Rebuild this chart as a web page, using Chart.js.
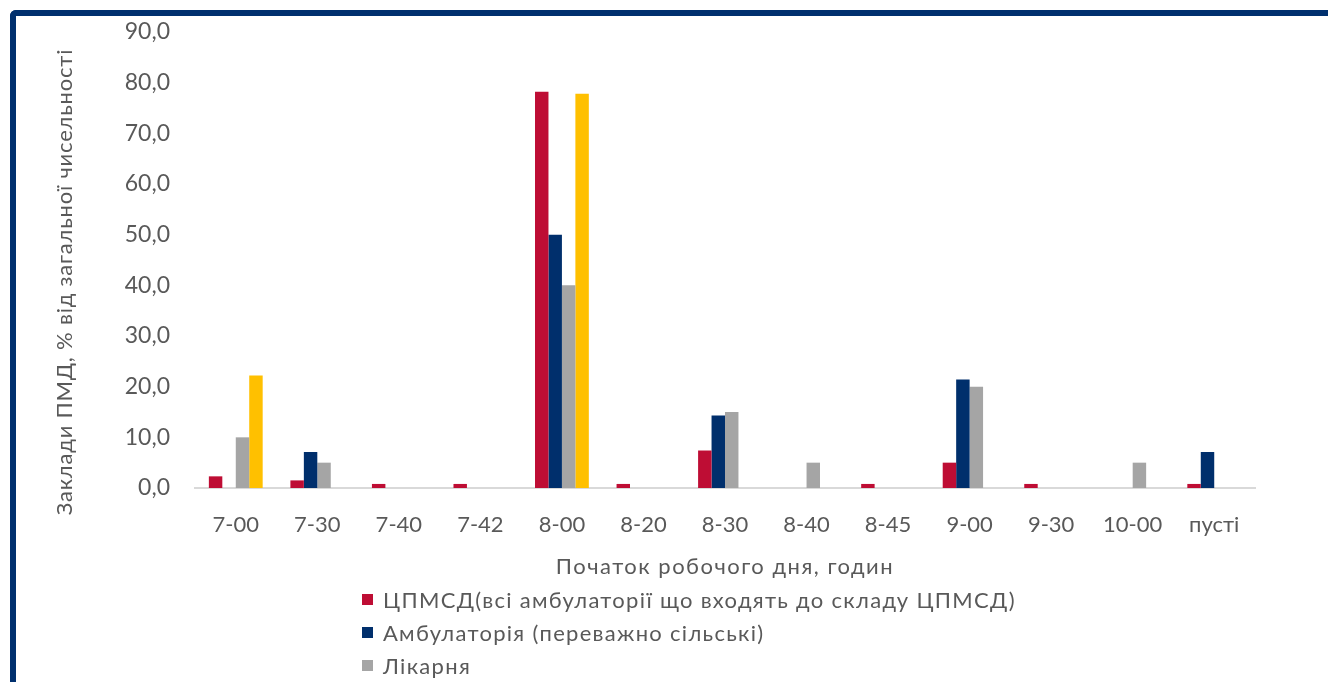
<!DOCTYPE html>
<html>
<head>
<meta charset="utf-8">
<script src="https://cdn.jsdelivr.net/npm/chart.js@4/dist/chart.umd.min.js"></script>
<style>
  html, body { margin: 0; padding: 0; width: 1328px; height: 682px; overflow: hidden; background: #fff; }
  #frame {
    position: absolute; left: 10px; top: 10px; width: 1400px; height: 800px;
    border-top: 6px solid #00306e; border-left: 6px solid #00306e;
    border-top-left-radius: 6px; box-sizing: border-box;
  }
  #wrap { position: absolute; left: 0; top: 0; width: 1328px; height: 682px; }
  #legend { position: absolute; left: 362px; top: 583px; font: 22px Lato, sans-serif; letter-spacing: 1.3px; color: #595959; }
  .item { display: flex; align-items: center; height: 33px; white-space: nowrap; }
  .box { width: 11px; height: 11px; margin-right: 10px; flex: none; }
</style>
</head>
<body>
<div id="frame"></div>
<div id="wrap"><canvas id="c" width="1328" height="682"></canvas></div>
<div id="legend"></div>
<script>
// Start of the working day, share of facilities (%)
const categories = ['7-00', '7-30', '7-40', '7-42', '8-00', '8-20', '8-30', '8-40', '8-45', '9-00', '9-30', '10-00', 'пусті'];
const cpmsd      = [2.3, 1.5, 0.8, 0.8, 78.2, 0.8, 7.4, 0, 0.8, 5.0, 0.8, 0, 0.8];
const ambulatory = [0, 7.1, 0, 0, 50.0, 0, 14.3, 0, 0, 21.4, 0, 0, 7.1];
const hospital   = [10.0, 5.0, 0, 0, 40.0, 0, 15.0, 5.0, 0, 20.0, 0, 5.0, 0];
const fap        = [22.2, 0, 0, 0, 77.8, 0, 0, 0, 0, 0, 0, 0, 0];

const seriesNames = [
  'ЦПМСД(всі амбулаторії що входять до складу ЦПМСД)',
  'Амбулаторія (переважно сільські)',
  'Лікарня',
  'ФАП'
];
const seriesColors = ['#be0d34', '#002f6c', '#a5a5a5', '#ffc000'];
const yTicks = [0, 10, 20, 30, 40, 50, 60, 70, 80, 90];
const xTitle = 'Початок робочого дня, годин';
const yTitle = 'Заклади ПМД, % від загальної чисельності';

const textColor = '#595959';
const tickFontX = { family: 'Lato', size: 22 };
const tickFontY = { family: 'Lato', size: 23 };

// axis titles: x centred under the plot, y rotated beside the value labels
const axisTitlePlugin = {
  id: 'axisTitles',
  afterDraw(chart) {
    const ctx = chart.ctx;
    const area = chart.chartArea;
    ctx.save();
    ctx.font = '22px Lato';
    ctx.fillStyle = textColor;
    ctx.textAlign = 'center';
    ctx.textBaseline = 'middle';
    ctx.letterSpacing = '1.5px';
    ctx.fillText(xTitle, (area.left + area.right) / 2, 567);
    ctx.translate(65, 282);
    ctx.rotate(-Math.PI / 2);
    ctx.letterSpacing = '0.8px';
    ctx.fillText(yTitle, 0, 0);
    ctx.restore();
  }
};

const values = [cpmsd, ambulatory, hospital, fap];

const chart = new Chart(document.getElementById('c'), {
  type: 'bar',
  data: {
    labels: categories,
    datasets: values.map((v, i) => ({
      label: seriesNames[i],
      data: v,
      backgroundColor: seriesColors[i],
      borderWidth: 0,
      barPercentage: 1,
      categoryPercentage: 0.66
    }))
  },
  options: {
    responsive: false,
    animation: false,
    layout: { padding: { left: 20, top: 32, right: 73, bottom: 0 } },
    plugins: { legend: { display: false }, tooltip: { enabled: false } },
    scales: {
      x: {
        grid: { display: false, drawTicks: false },
        border: { display: true, color: '#d9d9d9', width: 2 },
        ticks: { font: tickFontX, color: textColor, padding: 24, maxRotation: 0, autoSkip: false },
        afterFit(s) { s.height = 194; }
      },
      y: {
        min: 0, max: 90,
        grid: { display: false, drawTicks: false },
        border: { display: false },
        afterBuildTicks(s) { s.ticks = yTicks.map(v => ({ value: v })); },
        ticks: {
          font: tickFontY, color: textColor, padding: 25,
          callback: v => v.toFixed(1).replace('.', ',')
        },
        afterFit(s) {
          s.width = 175;
          // labels overhang into the layout padding, so the plot keeps its own top edge
          s.paddingTop = 0;
          s.paddingBottom = 0;
        }
      }
    }
  },
  plugins: [axisTitlePlugin]
});

// legend: one series per row, built from the chart's own legend items
const legendEl = document.getElementById('legend');
chart.options.plugins.legend.labels.generateLabels(chart).forEach(item => {
  const row = document.createElement('div');
  row.className = 'item';
  const box = document.createElement('span');
  box.className = 'box';
  box.style.background = item.fillStyle;
  const txt = document.createElement('span');
  txt.textContent = item.text;
  row.appendChild(box);
  row.appendChild(txt);
  legendEl.appendChild(row);
});
</script>
</body>
</html>
